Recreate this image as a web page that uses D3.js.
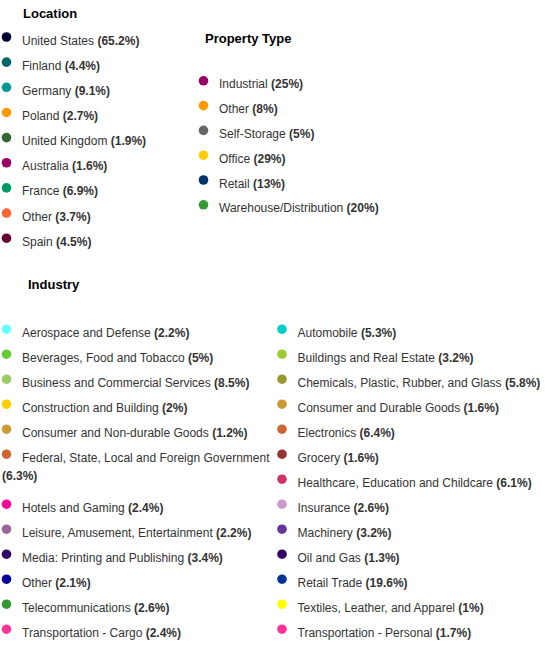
<!DOCTYPE html>
<html>
<head>
<meta charset="utf-8">
<script src="https://cdn.jsdelivr.net/npm/d3@7.9.0/dist/d3.min.js"></script>
<style>
  body { margin: 0; background: #fff; }
  svg { display: block; font-family: "Liberation Sans", Arial, sans-serif; }
  .title { font-size: 13px; font-weight: bold; fill: #000; }
  .item { font-size: 12px; fill: #333; }
  .item .val { font-weight: bold; }
</style>
</head>
<body>
<svg id="chart" width="545" height="654"></svg>
<script>
const locationNames = ["United States", "Finland", "Germany", "Poland", "United Kingdom",
  "Australia", "France", "Other", "Spain"];
const locationShares = [65.2, 4.4, 9.1, 2.7, 1.9, 1.6, 6.9, 3.7, 4.5];
const locationColors = ["#000033", "#006666", "#009999", "#ff9900", "#336633",
  "#990066", "#009966", "#ff6633", "#660033"];

const propertyNames = ["Industrial", "Other", "Self-Storage", "Office", "Retail",
  "Warehouse/Distribution"];
const propertyShares = [25, 8, 5, 29, 13, 20];
const propertyColors = ["#990066", "#ff9900", "#666666", "#ffcc00", "#003366", "#339933"];

const industryNames = ["Aerospace and Defense", "Automobile", "Beverages, Food and Tobacco",
  "Buildings and Real Estate", "Business and Commercial Services",
  "Chemicals, Plastic, Rubber, and Glass", "Construction and Building",
  "Consumer and Durable Goods", "Consumer and Non-durable Goods", "Electronics",
  "Federal, State, Local and Foreign Government", "Grocery",
  "Healthcare, Education and Childcare", "Hotels and Gaming", "Insurance",
  "Leisure, Amusement, Entertainment", "Machinery", "Media: Printing and Publishing",
  "Oil and Gas", "Other", "Retail Trade", "Telecommunications",
  "Textiles, Leather, and Apparel", "Transportation - Cargo", "Transportation - Personal"];
const industryShares = [2.2, 5.3, 5, 3.2, 8.5, 5.8, 2, 1.6, 1.2, 6.4, 6.3, 1.6, 6.1,
  2.4, 2.6, 2.2, 3.2, 3.4, 1.3, 2.1, 19.6, 2.6, 1, 2.4, 1.7];
const industryColors = ["#66ffff", "#00cccc", "#66cc33", "#99cc33", "#99cc66", "#999933",
  "#ffcc00", "#cc9933", "#cc9933", "#cc6633", "#cc6633", "#993333", "#cc3366", "#ff0099",
  "#cc99cc", "#996699", "#663399", "#330066", "#330066", "#000099", "#003399", "#339933",
  "#ffff00", "#ff3399", "#ff3399"];

const svg = d3.select("#chart");

// hidden text used to measure words for wrapping
const probe = svg.append("text").attr("class", "item").attr("visibility", "hidden");
function measure(str, bold) {
  probe.text(str).style("font-weight", bold ? "bold" : "normal");
  return probe.node().getComputedTextLength();
}

// split "label (value%)" into lines that fit the column width
function wrapTokens(name, share, firstWidth, restWidth) {
  const tokens = name.split(" ").map(w => ({ w, bold: false }));
  tokens.push({ w: `(${share}%)`, bold: true });
  const space = measure("a a", false) - measure("aa", false);
  const lines = [[]];
  let used = 0;
  tokens.forEach(t => {
    const tw = measure(t.w, t.bold);
    const limit = lines.length === 1 ? firstWidth : restWidth;
    const need = lines[lines.length - 1].length ? used + space + tw : tw;
    if (need > limit && lines[lines.length - 1].length) {
      lines.push([t]);
      used = tw;
    } else {
      lines[lines.length - 1].push(t);
      used = need;
    }
  });
  return lines;
}

function drawGroup(opts) {
  const { title, names, shares, colors, x0, titleY, firstY, step, colWidth, cols } = opts;
  const color = d3.scaleOrdinal(names, colors);
  const row = d3.scaleLinear().domain([0, 1]).range([firstY, firstY + step]);
  const col = d3.scaleLinear().domain([0, 1]).range([x0, x0 + colWidth]);
  const dotDx = 6.5, textDx = 22, wrapDx = 2, lineGap = 18;

  svg.append("text").attr("class", "title")
    .attr("x", x0 + opts.titleDx).attr("y", titleY).text(title);

  // float-like placement: each item goes to the highest free column slot
  const bottoms = new Array(cols).fill(0);
  let lastTop = 0;
  const items = names.map((n, i) => {
    const lines = wrapTokens(n, shares[i], colWidth - textDx - 2, colWidth - wrapDx - 2);
    let best = 0, bestY = Infinity;
    for (let c = 0; c < cols; c++) {
      const y = Math.max(bottoms[c], lastTop);
      if (y < bestY) { bestY = y; best = c; }
    }
    bottoms[best] = bestY + lines.length;
    lastTop = bestY;
    return { name: n, lines, c: best, slot: bestY };
  });

  const g = svg.append("g").selectAll("g").data(items).join("g");

  g.append("circle")
    .attr("cx", d => col(d.c) + dotDx)
    .attr("cy", d => row(d.slot) - 7.5)
    .attr("r", 4.8)
    .attr("fill", d => color(d.name));

  const txt = g.append("text").attr("class", "item");
  txt.each(function (d) {
    const t = d3.select(this);
    d.lines.forEach((line, li) => {
      line.forEach((tok, ti) => {
        const ts = t.append("tspan")
          .attr("class", tok.bold ? "val" : null)
          .text((ti ? " " : "") + tok.w);
        if (ti === 0) {
          ts.attr("x", col(d.c) + (li === 0 ? textDx : wrapDx))
            .attr("y", row(d.slot) + li * lineGap);
        }
      });
    });
  });
}

drawGroup({ title: "Location", names: locationNames, shares: locationShares,
  colors: locationColors, x0: 0, titleDx: 23, titleY: 18, firstY: 44.5, step: 25.15,
  colWidth: 190, cols: 1 });

drawGroup({ title: "Property Type", names: propertyNames, shares: propertyShares,
  colors: propertyColors, x0: 197, titleDx: 8, titleY: 43, firstY: 88.3, step: 24.8,
  colWidth: 300, cols: 1 });

drawGroup({ title: "Industry", names: industryNames, shares: industryShares,
  colors: industryColors, x0: 0, titleDx: 28, titleY: 289, firstY: 336.7, step: 25,
  colWidth: 275.5, cols: 2 });

probe.remove();
</script>
</body>
</html>
